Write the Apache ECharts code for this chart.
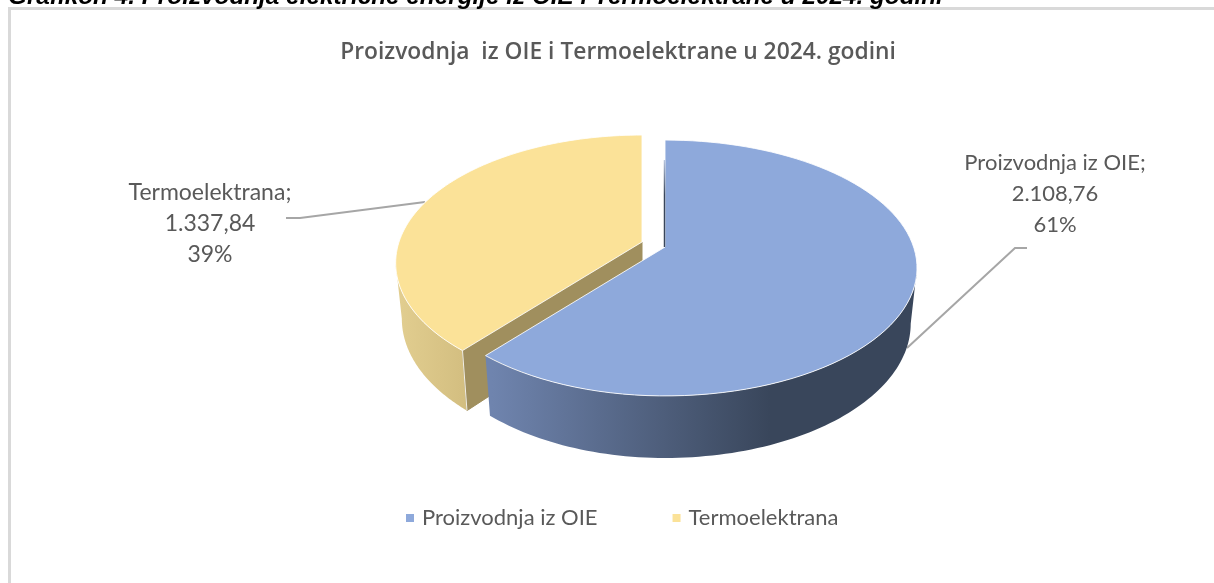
<!DOCTYPE html>
<html>
<head>
<meta charset="utf-8">
<title>Proizvodnja iz OIE i Termoelektrane</title>
<script src="https://cdn.jsdelivr.net/npm/echarts@6/dist/echarts.min.js"></script>
<style>
  html, body { margin: 0; padding: 0; background: #fff; }
  #chart { width: 1214px; height: 583px; }
</style>
</head>
<body>
<div id="chart"></div>
<script>
  // podaci
  const categories = ['Proizvodnja iz OIE', 'Termoelektrana']
  const values = [2108.76, 1337.84]
  const valueLabels = ['2.108,76', '1.337,84']
  const percentLabels = ['61%', '39%']
  const topColors = ['#8EA9DB', '#FBE298']
  const innerColors = ['#39465B', '#A08F5E']

  const total = values[0] + values[1]

  // perspektiva diska, Excel 3D pie
  const persp = 0.164
  const radiusX = 248.6
  const radiusXLeft = 243
  const radiusY = 124.5
  const depth = 54.6
  const bottomScaleX = 0.975
  const bottomScaleY = 1.05
  const apexes = [[665, 247], [642, 242]]  // drugi je izvucen iz pite
  const rightTurn = Math.acos(-persp)
  const leftTurn = 2 * Math.PI - rightTurn

  function project(theta, apex, bottom) {
    const u = Math.sin(theta)
    const v = -Math.cos(theta)
    const w = 1 - persp * v
    const sx = bottom ? bottomScaleX : 1
    const sy = bottom ? bottomScaleY : 1
    const rx = u < 0 ? radiusXLeft : radiusX
    return [apex[0] + rx * sx * u / w, apex[1] + (bottom ? depth : 0) + radiusY * sy * v / w]
  }

  function rim(from, to, apex, bottom) {
    const pts = []
    const n = 90
    for (let i = 0; i <= n; i++) {
      pts.push(project(from + (to - from) * i / n, apex, bottom))
    }
    return pts
  }

  const sideFills = [
    { type: 'linear', x: 492, y: 0, x2: 770, y2: 0, global: true,
      colorStops: [{ offset: 0, color: '#6F84AE' }, { offset: 1, color: '#39465B' }] },
    { type: 'linear', x: 396, y: 0, x2: 466, y2: 0, global: true,
      colorStops: [{ offset: 0, color: '#E2CE90' }, { offset: 1, color: '#D3BE80' }] }
  ]

  function renderSlice(idx) {
    return function (params, api) {
      let before = 0
      for (let i = 0; i < idx; i++) before += values[i]
      const t0 = before / total * 2 * Math.PI
      const t1 = t0 + api.value(0) / total * 2 * Math.PI
      const apex = apexes[idx]
      const apexBottom = [apex[0], apex[1] + depth]
      const children = []

      // vanjski omotac
      const lo = Math.max(t0, rightTurn)
      const hi = Math.min(t1, leftTurn)
      children.push({
        type: 'polygon',
        shape: { points: rim(lo, hi, apex, false).concat(rim(hi, lo, apex, true)) },
        style: { fill: sideFills[idx] }
      })

      // unutrasnja stranica
      const startTop = project(t0, apex, false)
      const startBottom = project(t0, apex, true)
      if (idx === 1) {
        children.push({
          type: 'polygon',
          shape: { points: [startTop, apex, apexBottom, startBottom] },
          style: { fill: innerColors[idx], stroke: innerColors[idx], lineWidth: 1 }
        })
        children.push({
          type: 'line',
          shape: { x1: startTop[0], y1: startTop[1], x2: startBottom[0], y2: startBottom[1] },
          style: { stroke: '#fff', lineWidth: 1, opacity: 0.85 }
        })
      }

      // gornja ploha
      children.push({
        type: 'polygon',
        shape: { points: rim(t0, t1, apex, false).concat([apex]) },
        style: { fill: topColors[idx], stroke: '#fff', lineWidth: 1, strokeOpacity: 0.85 }
      })

      // tanka tamna stranica na pocetku velikog isjecka
      if (idx === 0) {
        children.push({
          type: 'line',
          shape: { x1: startTop[0] - 0.5, y1: startTop[1] + 20, x2: apex[0] - 0.5, y2: apex[1] },
          style: {
            lineWidth: 1.5,
            stroke: { type: 'linear', x: 0, y: startTop[1] + 20, x2: 0, y2: apex[1], global: true,
              colorStops: [{ offset: 0, color: '#B9C6DE' }, { offset: 0.4, color: innerColors[0] }, { offset: 1, color: innerColors[0] }] }
          }
        })
      }
      return { type: 'group', children: children }
    }
  }

  const labelText = categories.map(function (c, i) {
    return c + ';\n' + valueLabels[i] + '\n' + percentLabels[i]
  })

  const seriesList = categories.map(function (c, i) {
    return {
      name: c,
      type: 'custom',
      coordinateSystem: 'none',
      silent: true,
      itemStyle: { color: topColors[i] },
      renderItem: renderSlice(i),
      data: [[values[i]]]
    }
  }).reverse()

  const chart = echarts.init(document.getElementById('chart'))
  chart.setOption({
    animation: false,
    backgroundColor: '#fff',
    title: {
      text: 'Proizvodnja  iz OIE i Termoelektrane u 2024. godini',
      left: 613,
      top: 36,
      textAlign: 'center',
      textStyle: { fontFamily: 'Open Sans', fontSize: 22.8, fontWeight: 600, color: '#595959' }
    },
    legend: {
      data: categories,
      left: 406,
      top: 507,
      padding: 0,
      icon: 'rect',
      itemWidth: 8,
      itemHeight: 8,
      itemGap: 75,
      selectedMode: false,
      textStyle: { fontFamily: 'Lato', fontSize: 22, color: '#595959', padding: [0, 0, 0, 3] }
    },
    graphic: [
      { type: 'rect', silent: true, shape: { x: 8, y: 7, width: 1206, height: 3 }, style: { fill: '#D9D9D9' } },
      { type: 'rect', silent: true, shape: { x: 8, y: 7, width: 3, height: 576 }, style: { fill: '#D9D9D9' } },
      {
        type: 'text', silent: true, x: 8, y: 9,
        style: {
          text: 'Grafikon 4. Proizvodnja električne energije iz OIE i Termoelektrane u 2024. godini',
          font: 'italic bold 24.3px "Liberation Sans"',
          fill: '#000', textVerticalAlign: 'bottom'
        }
      },
      {
        type: 'text', silent: true, x: 1055, y: 147,
        style: {
          text: labelText[0], font: '22px Lato', fill: '#595959',
          textAlign: 'center', lineHeight: 31
        }
      },
      {
        type: 'text', silent: true, x: 210, y: 177,
        style: {
          text: labelText[1], font: '23px Lato', fill: '#595959',
          textAlign: 'center', lineHeight: 31
        }
      },
      {
        type: 'polyline', silent: true,
        shape: { points: [[1027, 248], [1015, 248], [907, 348]] },
        style: { stroke: '#A6A6A6', lineWidth: 2, fill: 'none' }
      },
      {
        type: 'polyline', silent: true,
        shape: { points: [[286, 218], [300, 218], [425, 202]] },
        style: { stroke: '#A6A6A6', lineWidth: 2, fill: 'none' }
      }
    ],
    series: seriesList
  })
</script>
</body>
</html>
